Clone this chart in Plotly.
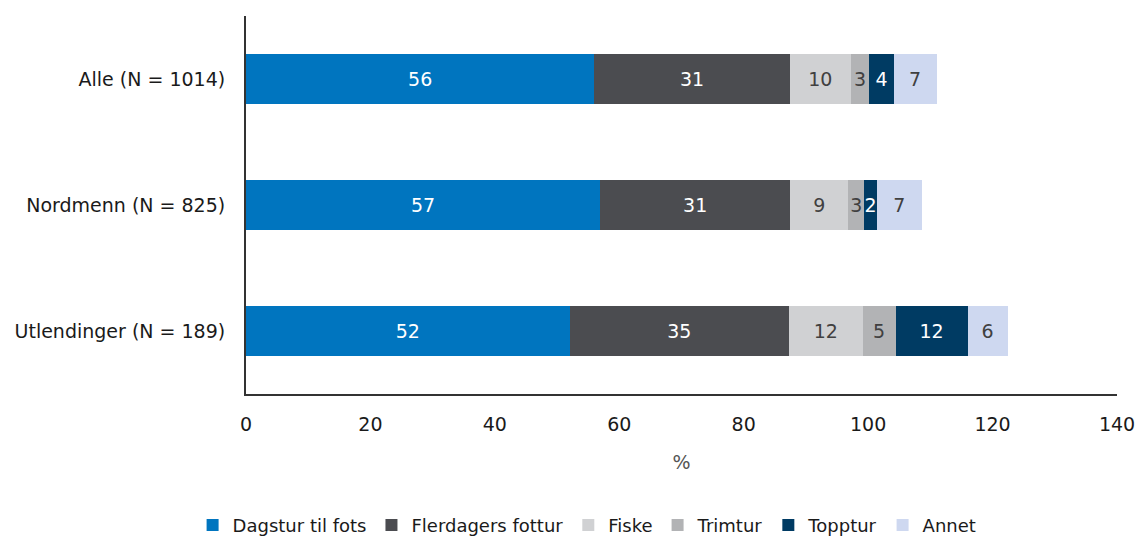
import plotly.graph_objects as go

categories = ["Alle (N = 1014)", "Nordmenn (N = 825)", "Utlendinger (N = 189)"]
series_names = ["Dagstur til fots", "Flerdagers fottur", "Fiske", "Trimtur", "Topptur", "Annet"]
dagstur = [56.0, 56.9, 52.0]
flerdagers = [31.4, 30.6, 35.3]
fiske = [9.8, 9.3, 11.8]
trimtur = [3.0, 2.6, 5.3]
topptur = [3.9, 2.0, 11.6]
annet = [6.9, 7.2, 6.4]
x_ticks = [0, 20, 40, 60, 80, 100, 120, 140]

series_values = [dagstur, flerdagers, fiske, trimtur, topptur, annet]
colors = ["#0075BF", "#4B4C50", "#D0D1D3", "#B2B3B5", "#003B63", "#CED8F0"]
text_colors = ["white", "white", "#404040", "#404040", "white", "#404040"]

FONT = "DejaVu Sans"
FS = 19

fig = go.Figure()
for name, vals, col, tcol in zip(series_names, series_values, colors, text_colors):
    fig.add_trace(go.Bar(
        y=categories, x=vals, name=name, orientation="h",
        marker=dict(color=col, line=dict(width=0)),
        text=vals, texttemplate="%{x:.0f}", textposition="inside",
        insidetextanchor="middle", textangle=0, constraintext="none",
        insidetextfont=dict(color=tcol, size=FS, family=FONT),
        hoverinfo="skip",
    ))

fig.update_layout(
    barmode="stack",
    bargap=0.6,
    width=1140, height=536,
    margin=dict(l=246, r=23, t=16, b=142, autoexpand=False),
    plot_bgcolor="white", paper_bgcolor="white",
    font=dict(family=FONT, size=FS, color="#1a1a1a"),
    legend=dict(orientation="h", xref="container", yref="container",
                x=0.515, xanchor="center", y=0.02, yanchor="middle",
                font=dict(size=18, color="#1a1a1a"), traceorder="normal",
                itemwidth=30),
    xaxis=dict(range=[0, 140], tickvals=x_ticks, showgrid=False, zeroline=False,
               showline=True, linecolor="#333333", linewidth=2, ticks="",
               automargin=False, ticklabelstandoff=12,
               tickfont=dict(size=FS, color="#1a1a1a"),
               title=dict(text="%", font=dict(size=FS, color="#555555"), standoff=22)),
    yaxis=dict(autorange="reversed", showgrid=False, zeroline=False,
               showline=True, linecolor="#333333", linewidth=2, ticks="",
               automargin=False, ticklabelstandoff=15,
               tickfont=dict(size=FS, color="#1a1a1a")),
)

fig.write_html("out.html", config={"displayModeBar": False},
               post_script="document.body.style.margin='0';")
